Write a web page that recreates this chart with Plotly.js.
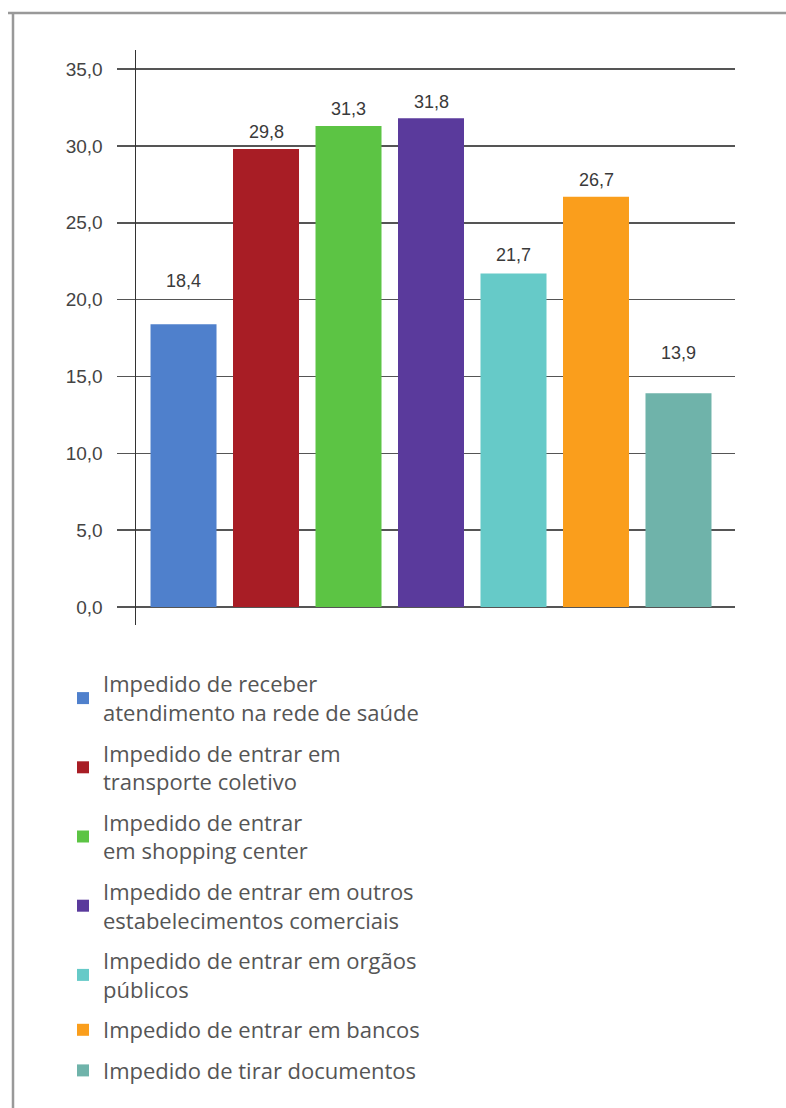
<!DOCTYPE html>
<html>
<head>
<meta charset="utf-8">
<script src="https://cdn.plot.ly/plotly-3.0.1.min.js"></script>
<style>
  html, body { margin: 0; padding: 0; background: #fff; }
  #chart { width: 786px; height: 1108px; }
</style>
</head>
<body>
<div id="chart"></div>
<script>
const categories = [
  "Impedido de receber<br>atendimento na rede de saúde",
  "Impedido de entrar em<br>transporte coletivo",
  "Impedido de entrar<br>em shopping center",
  "Impedido de entrar em outros<br>estabelecimentos comerciais",
  "Impedido de entrar em orgãos<br>públicos",
  "Impedido de entrar em bancos",
  "Impedido de tirar documentos"
];
const values = [18.4, 29.8, 31.3, 31.8, 21.7, 26.7, 13.9];
const colors = ["#4f80cc", "#a81d25", "#5cc444", "#5a3a9c", "#66cac8", "#fa9e1c", "#6fb3aa"];
const yTicks = [0, 5, 10, 15, 20, 25, 30, 35];
// vertical gap (px) between bar top and its value label, as in the reference
const labelGap = [33, 7, 7, 6, 8, 7, 30];

const W = 786, H = 1108;
const L = 136, R = 735, T = 50, B = 625;
const fmt = v => v.toFixed(1).replace(".", ",");
const numFont = "Liberation Sans, Arial";

const traces = categories.map((c, i) => ({
  type: "bar",
  name: c,
  legendgroup: "g" + i,
  x: [i],
  y: [values[i]],
  marker: { color: colors[i], line: { width: 0 } },
  width: 0.8,
  hoverinfo: "skip"
}));

const annotations = values.map((v, i) => ({
  x: i, y: v, xref: "x", yref: "y",
  text: fmt(v),
  showarrow: false,
  yanchor: "bottom",
  yshift: labelGap[i] - 2,
  font: { family: numFont, size: 18, color: "#3a3a3a" }
}));

const px2x = p => (p - L) / (R - L);
const py2y = p => (B - p) / (B - T);

const layout = {
  width: W, height: H,
  margin: { l: L, r: W - R, t: T, b: H - B, pad: 0, autoexpand: false },
  paper_bgcolor: "#fff",
  plot_bgcolor: "#fff",
  showlegend: true,
  barmode: "overlay",
  xaxis: {
    range: [-0.576, 6.685],
    showticklabels: false,
    showgrid: false,
    zeroline: false,
    ticks: "",
    showline: false
  },
  yaxis: {
    range: [-1.17, 36.24],
    tickvals: yTicks,
    ticktext: yTicks.map(fmt),
    showgrid: true,
    gridcolor: "#555",
    gridwidth: 1.5,
    zeroline: false,
    showline: true,
    linecolor: "#333",
    linewidth: 1.5,
    ticks: "outside",
    ticklen: 18,
    tickwidth: 1.5,
    tickcolor: "#555",
    ticklabelstandoff: 10,
    tickfont: { family: numFont, size: 19, color: "#444" }
  },
  legend: {
    xref: "container", yref: "container",
    x: 63 / W, y: 1 - 663 / H,
    xanchor: "left", yanchor: "top",
    orientation: "v",
    traceorder: "grouped",
    font: { family: "Open Sans, Arial", size: 22, color: "#555" },
    itemwidth: 30,
    tracegroupgap: 9,
    bgcolor: "rgba(0,0,0,0)"
  },
  annotations: annotations,
  shapes: [
    { type: "line", xref: "paper", yref: "paper", x0: px2x(8), x1: px2x(786), y0: py2y(13), y1: py2y(13), line: { color: "#999", width: 2.5 } },
    { type: "line", xref: "paper", yref: "paper", x0: px2x(13), x1: px2x(13), y0: py2y(13), y1: py2y(1108), line: { color: "#999", width: 2.5 } }
  ]
};

Plotly.newPlot("chart", traces, layout, { displayModeBar: false, staticPlot: true });
</script>
</body>
</html>
